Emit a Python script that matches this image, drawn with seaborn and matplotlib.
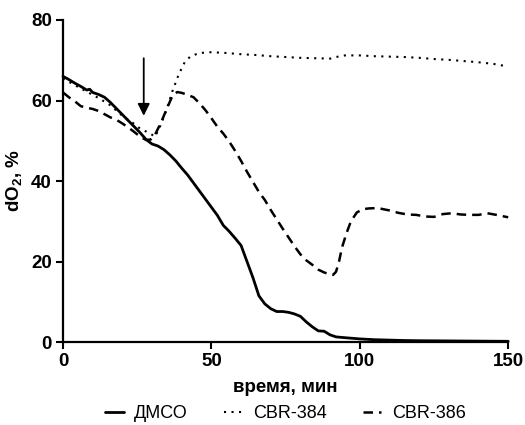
import matplotlib
matplotlib.use("Agg")
import matplotlib.pyplot as plt
import seaborn as sns
import pandas as pd

# --- data ---
t_dmso = [0, 2, 4, 6, 8, 9, 10, 12, 14, 16, 18, 20, 22, 24, 26, 28, 30, 32, 34, 36,
          38, 40, 42, 44, 46, 48, 50, 52, 54, 56, 58, 60, 62, 64, 66, 68, 70, 72, 74,
          76, 78, 80, 82, 84, 86, 88, 90, 92, 95, 100, 105, 110, 115, 120, 130, 140, 150]
dmso = [66, 65.2, 64.3, 63.5, 62.6, 62.8, 62.0, 61.5, 60.8, 59.5, 58, 56.5, 55, 53.5,
        52, 50.3, 49.2, 48.7, 47.8, 46.5, 45, 43.2, 41.5, 39.5, 37.5, 35.5, 33.5, 31.5,
        29, 27.5, 25.8, 24, 20, 16, 11.5, 9.5, 8.3, 7.6, 7.6, 7.4, 7, 6.4, 5, 3.8, 2.8,
        2.7, 1.8, 1.3, 1.1, 0.8, 0.6, 0.5, 0.4, 0.35, 0.3, 0.25, 0.2]

t_384 = [0, 4, 8, 12, 16, 20, 22, 24, 26, 28, 30, 31, 33, 35, 37, 39, 41, 43, 46, 50,
         55, 60, 65, 70, 75, 80, 85, 90, 92, 95, 100, 105, 110, 115, 120, 125, 130,
         135, 140, 145, 148, 150]
cbr384 = [65.5, 63.8, 62.2, 60.6, 58.8, 56.2, 55.2, 54.2, 53, 52.3, 51.5, 51, 54, 58,
          62.6, 66.5, 69.5, 71, 71.8, 72, 71.8, 71.5, 71.3, 71, 70.8, 70.6, 70.5, 70.4,
          70.8, 71.2, 71.2, 71, 70.9, 70.8, 70.6, 70.3, 70.1, 69.8, 69.5, 69.1, 68.7, 68.5]

t_386 = [0, 2, 4, 6, 8, 10, 12, 14, 16, 18, 20, 22, 24, 26, 28, 29.5, 31, 33, 35, 37,
         38.5, 40, 42, 44, 46, 48, 50, 52, 54, 56, 58, 60, 62, 64, 66, 68, 70, 72, 74,
         76, 78, 80, 82, 84, 86, 88, 90, 91, 92, 93, 94, 95.5, 97, 99, 101, 103, 106,
         110, 113, 116, 119, 122, 125, 128, 131, 134, 137, 140, 143, 146, 148, 150]
cbr386 = [62, 60.8, 59.8, 58.6, 58.2, 57.9, 57.4, 56.6, 55.8, 55.2, 54.3, 53.3, 52.2,
          51, 50.2, 50.3, 51.5, 54.5, 58, 61.4, 62.1, 61.9, 61.4, 60.8, 59.3, 57.6, 55.6,
          53.5, 51.8, 49.8, 47.5, 45, 42.3, 39.8, 37.3, 35.3, 32.8, 30.5, 28.2, 26, 23.8,
          21.8, 20.3, 19.2, 18, 17.3, 16.8, 16.7, 17.5, 20, 23.5, 27, 30, 32.2, 33, 33.2,
          33.3, 32.7, 32.1, 31.7, 31.6, 31.2, 31.1, 31.8, 32, 31.7, 31.6, 31.6, 32, 31.6,
          31.3, 31]

labels = ["ДМСО", "CBR-384", "CBR-386"]
arrow_t = 27.2

sns.set_style("ticks")
plt.rcParams["font.family"] = ["Liberation Sans", "DejaVu Sans"]
plt.rcParams["mathtext.fontset"] = "custom"
plt.rcParams["mathtext.bf"] = "Liberation Sans:bold"
plt.rcParams["mathtext.rm"] = "Liberation Sans"
for k in ["text.color", "axes.labelcolor", "xtick.color", "ytick.color"]:
    plt.rcParams[k] = "black"

fig = plt.figure(figsize=(5.25, 4.25), dpi=100)
ax = fig.add_axes([0.12, 0.195, 0.848, 0.758])

sns.lineplot(x=t_384, y=cbr384, ax=ax, color="black", linestyle=(0, (1, 2.6)),
             linewidth=1.5, label=labels[1], clip_on=False)
sns.lineplot(x=t_386, y=cbr386, ax=ax, color="black", linestyle=(0, (3.8, 2.4)),
             linewidth=1.8, label=labels[2], clip_on=False)
sns.lineplot(x=t_dmso, y=dmso, ax=ax, color="black", linestyle="-",
             linewidth=2, label=labels[0], clip_on=False)

ax.annotate("", xy=(arrow_t, 56.2), xytext=(arrow_t, 70.5),
            arrowprops=dict(arrowstyle="-|>", color="black", lw=1.3,
                            mutation_scale=18, shrinkA=0, shrinkB=0))

ax.set_xlim(0, 150)
ax.set_ylim(0, 80)
ax.set_xticks([0, 50, 100, 150])
ax.set_yticks([0, 20, 40, 60, 80])
for lab in ax.get_xticklabels() + ax.get_yticklabels():
    lab.set_fontweight("bold")
ax.tick_params(labelsize=13.5, width=1.5, length=5, color="black",
               labelcolor="black", pad=3)
for s in ["left", "bottom"]:
    ax.spines[s].set_linewidth(1.6)
    ax.spines[s].set_color("black")
sns.despine(ax=ax)

ax.set_xlabel("время, мин", fontsize=13.5, fontweight="bold", labelpad=6)
ax.set_ylabel(r"dO$_\mathbf{2}$, %", fontsize=13.5, fontweight="bold", labelpad=4)

h, l = ax.get_legend_handles_labels()
order = [l.index(x) for x in labels]
ax.legend([h[i] for i in order], [l[i] for i in order], loc="center",
          bbox_to_anchor=(0.5, -0.222), ncol=3, frameon=False, fontsize=13,
          handlelength=1.0, columnspacing=2.0, handletextpad=0.6,
          borderpad=0, borderaxespad=0)

fig.savefig("out.png", dpi=100)
